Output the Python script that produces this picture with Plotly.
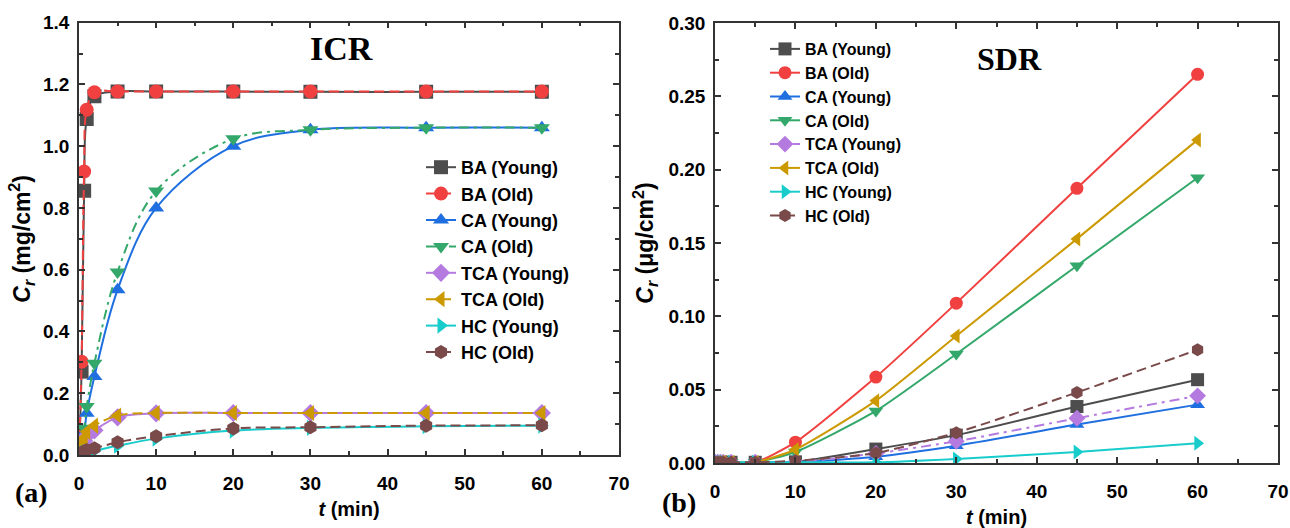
import plotly.graph_objects as go

# Sampling times (min)
t = [0, 1/3, 2/3, 1, 2, 5, 10, 20, 30, 45, 60]

names = ["BA (Young)", "BA (Old)", "CA (Young)", "CA (Old)",
         "TCA (Young)", "TCA (Old)", "HC (Young)", "HC (Old)"]
colors = ["#4d4d4d", "#f04040", "#1f6fe0", "#33a86a",
          "#b57ae0", "#cc9900", "#19cccc", "#7a4a4a"]
symbols = ["square", "circle", "triangle-up", "triangle-down",
           "diamond", "triangle-left", "triangle-right", "hexagon"]

# ICR, mg/cm2
icr_ba_young = [0, 0.27, 0.856, 1.088, 1.162, 1.177, 1.177, 1.177, 1.176, 1.176, 1.176]
icr_ba_old = [0, 0.302, 0.918, 1.118, 1.175, 1.177, 1.177, 1.177, 1.177, 1.177, 1.177]
icr_ca_young = [0, 0.03, 0.07, 0.135, 0.254, 0.535, 0.80, 1.0, 1.053, 1.06, 1.06]
icr_ca_old = [0, 0.045, 0.087, 0.157, 0.297, 0.593, 0.855, 1.024, 1.053, 1.06, 1.06]
icr_tca_young = [0, 0.03, 0.045, 0.062, 0.08, 0.122, 0.135, 0.136, 0.136, 0.136, 0.136]
icr_tca_old = [0, 0.035, 0.055, 0.075, 0.095, 0.128, 0.136, 0.136, 0.136, 0.136, 0.136]
icr_hc_young = [0, 0.004, 0.007, 0.01, 0.014, 0.03, 0.053, 0.079, 0.088, 0.093, 0.095]
icr_hc_old = [0, 0.008, 0.012, 0.016, 0.022, 0.041, 0.061, 0.086, 0.09, 0.095, 0.096]

# SDR, ug/cm2
sdr_ba_young = [0.0005, 0.0005, 0.0005, 0.0005, 0.0005, 0.0005, 0.0008, 0.0095, 0.019, 0.0385, 0.0568]
sdr_ba_old = [0.0005, 0.0005, 0.0005, 0.0005, 0.0005, 0.0005, 0.0142, 0.0586, 0.109, 0.1873, 0.265]
sdr_ca_young = [0.0005, 0.0005, 0.0005, 0.0005, 0.0005, 0.0005, 0.0005, 0.0043, 0.0118, 0.0262, 0.0398]
sdr_ca_old = [0.0005, 0.0005, 0.0005, 0.0005, 0.0005, 0.0005, 0.0075, 0.0355, 0.0743, 0.1345, 0.1945]
sdr_tca_young = [0.0005, 0.0005, 0.0005, 0.0005, 0.0005, 0.0005, 0.0005, 0.0065, 0.0148, 0.0305, 0.0458]
sdr_tca_old = [0.0005, 0.0005, 0.0005, 0.0005, 0.0005, 0.0005, 0.0092, 0.0425, 0.0866, 0.1528, 0.2203]
sdr_hc_young = [0.0005, 0.0005, 0.0005, 0.0005, 0.0005, 0.0005, 0.0005, 0.0005, 0.0028, 0.0075, 0.0135]
sdr_hc_old = [0.0005, 0.0005, 0.0005, 0.0005, 0.0005, 0.0005, 0.0015, 0.0068, 0.0207, 0.0481, 0.0772]

icr_series = [icr_ba_young, icr_ba_old, icr_ca_young, icr_ca_old,
              icr_tca_young, icr_tca_old, icr_hc_young, icr_hc_old]
sdr_series = [sdr_ba_young, sdr_ba_old, sdr_ca_young, sdr_ca_old,
              sdr_tca_young, sdr_tca_old, sdr_hc_young, sdr_hc_old]

DASH = "10px,5px"
DASHDOT = "10px,5px,3px,5px"
icr_dash = ["solid", DASH, "solid", DASHDOT, "solid", DASH, "solid", DASH]
sdr_dash = ["solid", "solid", "solid", "solid", DASHDOT, "solid", "solid", DASH]

fig = go.Figure()

for i, name in enumerate(names):
    fig.add_trace(go.Scatter(
        x=t, y=icr_series[i], name=name, mode="lines+markers",
        line=dict(color=colors[i], width=2, dash=icr_dash[i], shape="spline", smoothing=1),
        marker=dict(symbol=symbols[i], size=14, color=colors[i], line=dict(width=0)),
        xaxis="x", yaxis="y", legend="legend", legendgroup="a%d" % i,
    ))

for i, name in enumerate(names):
    fig.add_trace(go.Scatter(
        x=t, y=sdr_series[i], name=name, mode="lines+markers",
        line=dict(color=colors[i], width=2, dash=sdr_dash[i], shape="spline", smoothing=0.6),
        marker=dict(symbol=symbols[i], size=13, color=colors[i], line=dict(width=0)),
        xaxis="x2", yaxis="y2", legend="legend2",
    ))

W, H = 1290, 528
FONT = "Liberation Sans, Arial"
SERIF = "Liberation Serif, Times New Roman"
tickfont = dict(family=FONT, size=19, color="black", weight="bold")
minor_x = dict(dtick=5, ticks="inside", ticklen=4, tickwidth=1.5, tickcolor="#333333")
axis_common = dict(
    showline=True, linecolor="#333333", linewidth=1.5, mirror="ticks",
    ticks="inside", ticklen=6, tickwidth=1.5, tickcolor="#333333",
    showgrid=False, zeroline=False, tickfont=tickfont, automargin=False,
)
xtitle = dict(text="<i>t</i> (min)", font=dict(family=FONT, size=20, color="black", weight="bold"),
              standoff=9)
ytitle_font = dict(family=FONT, size=23, color="black", weight="bold")

fig.update_layout(
    width=W, height=H,
    margin=dict(l=0, r=0, t=0, b=0),
    paper_bgcolor="white", plot_bgcolor="white",
    xaxis=dict(domain=[79 / W, 619 / W], range=[0, 70], dtick=10, anchor="y",
               minor=minor_x, ticklabelstandoff=10, title=xtitle, **axis_common),
    yaxis=dict(domain=[(H - 455) / H, (H - 22.7) / H], range=[0, 1.4], dtick=0.2, tickformat=".1f",
               anchor="x", ticklabelstandoff=4,
               minor=dict(dtick=0.1, ticks="inside", ticklen=4, tickwidth=1.5, tickcolor="#333333"),
               title=dict(text="<i>C<sub>r</sub></i> (mg/cm<sup>2</sup>)", font=ytitle_font,
                          standoff=6),
               **axis_common),
    xaxis2=dict(domain=[715 / W, 1278 / W], range=[0, 70], dtick=10, anchor="y2",
                minor=minor_x, ticklabelstandoff=10, title=xtitle, **axis_common),
    yaxis2=dict(domain=[(H - 463) / H, (H - 23) / H], range=[0, 0.30], dtick=0.05, tickformat=".2f",
                anchor="x2", ticklabelstandoff=4,
                minor=dict(dtick=0.025, ticks="inside", ticklen=4, tickwidth=1.5, tickcolor="#333333"),
                title=dict(text="<i>C<sub>r</sub></i> (\u03bcg/cm<sup>2</sup>)", font=ytitle_font,
                           standoff=8),
                **axis_common),
    legend=dict(x=421 / W, y=(H - 149) / H, xanchor="left", yanchor="top",
                bgcolor="rgba(0,0,0,0)", tracegroupgap=0,
                font=dict(family=FONT, size=18, color="black", weight="bold")),
    legend2=dict(x=765 / W, y=(H - 32) / H, xanchor="left", yanchor="top",
                 bgcolor="rgba(0,0,0,0)", tracegroupgap=0,
                 font=dict(family=FONT, size=16, color="black", weight="bold")),
    annotations=[
        dict(text="<b>ICR</b>", x=341 / W, y=(H - 49) / H, xref="paper", yref="paper",
             xanchor="center", yanchor="middle", showarrow=False,
             font=dict(family=SERIF, size=34, color="black")),
        dict(text="<b>SDR</b>", x=1009 / W, y=(H - 59) / H, xref="paper", yref="paper",
             xanchor="center", yanchor="middle", showarrow=False,
             font=dict(family=SERIF, size=32, color="black")),
        dict(text="<b>(a)</b>", x=31 / W, y=(H - 492) / H, xref="paper", yref="paper",
             xanchor="center", yanchor="middle", showarrow=False,
             font=dict(family=SERIF, size=28, color="black")),
        dict(text="<b>(b)</b>", x=679 / W, y=(H - 502) / H, xref="paper", yref="paper",
             xanchor="center", yanchor="middle", showarrow=False,
             font=dict(family=SERIF, size=28, color="black")),
    ],
)

fig.write_html("out.html")
